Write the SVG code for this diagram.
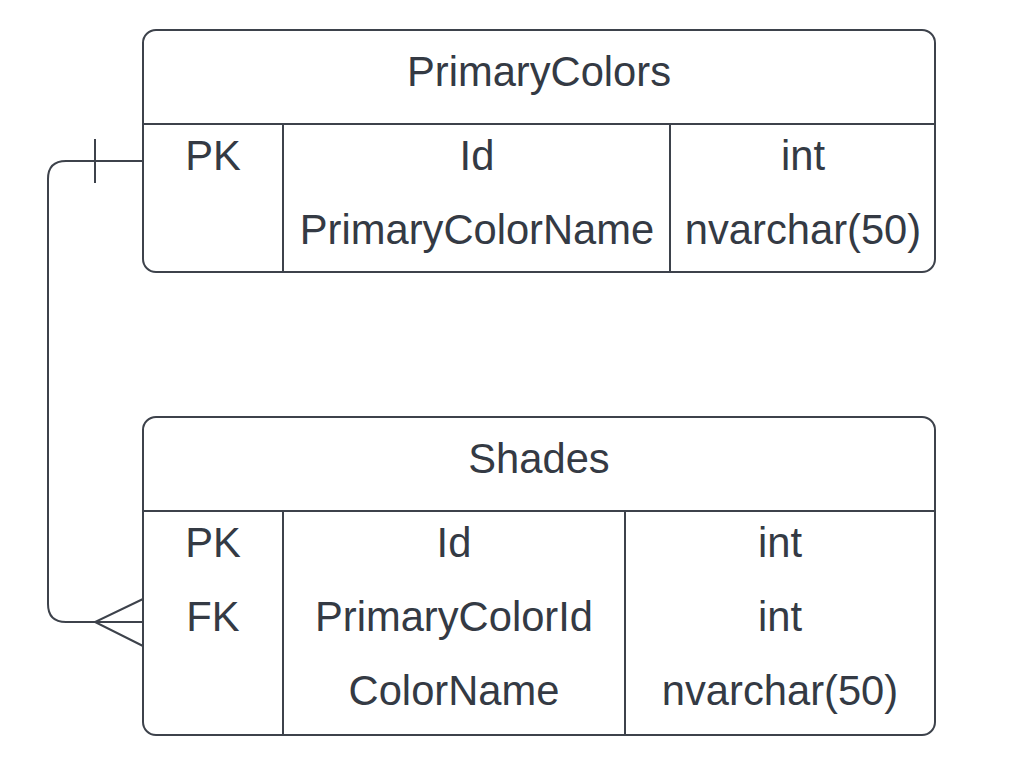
<svg xmlns="http://www.w3.org/2000/svg" width="1020" height="757" viewBox="0 0 1020 757">
<style>
.box{fill:#ffffff;stroke:#3d424b;stroke-width:2}
.ln{stroke:#3d424b;stroke-width:2;fill:none}
.t{font-family:"Liberation Sans",Arial,sans-serif;font-size:41.7px;fill:#343a44;text-anchor:middle}
</style>
<rect width="1020" height="757" fill="#ffffff"/>
<g id="PrimaryColors">
<rect class="box" x="143" y="30" width="792" height="242" rx="13"/>
<line class="ln" x1="143" y1="124" x2="935" y2="124"/>
<line class="ln" x1="283" y1="124" x2="283" y2="272"/>
<line class="ln" x1="670" y1="124" x2="670" y2="272"/>
<text class="t" x="539" y="86">PrimaryColors</text>
<text class="t" x="213" y="170">PK</text>
<text class="t" x="477" y="170">Id</text>
<text class="t" x="803" y="170">int</text>
<text class="t" x="477" y="244">PrimaryColorName</text>
<text class="t" x="803" y="244">nvarchar(50)</text>
</g>
<g id="Shades">
<rect class="box" x="143" y="417" width="792" height="318" rx="13"/>
<line class="ln" x1="143" y1="511" x2="935" y2="511"/>
<line class="ln" x1="283" y1="511" x2="283" y2="735"/>
<line class="ln" x1="625" y1="511" x2="625" y2="735"/>
<text class="t" x="539" y="473">Shades</text>
<text class="t" x="213" y="557">PK</text>
<text class="t" x="454" y="557">Id</text>
<text class="t" x="780" y="557">int</text>
<text class="t" x="213" y="631">FK</text>
<text class="t" x="454" y="631">PrimaryColorId</text>
<text class="t" x="780" y="631">int</text>
<text class="t" x="454" y="705">ColorName</text>
<text class="t" x="780" y="705">nvarchar(50)</text>
</g>
<g id="connectors">
<path class="ln" d="M143 161 H66 Q48 161 48 179 V604 Q48 622 66 622 H143"/>
<line class="ln" x1="95" y1="139" x2="95" y2="183"/>
<path class="ln" d="M143 599 L95 622 L143 646"/>
</g>
</svg>
